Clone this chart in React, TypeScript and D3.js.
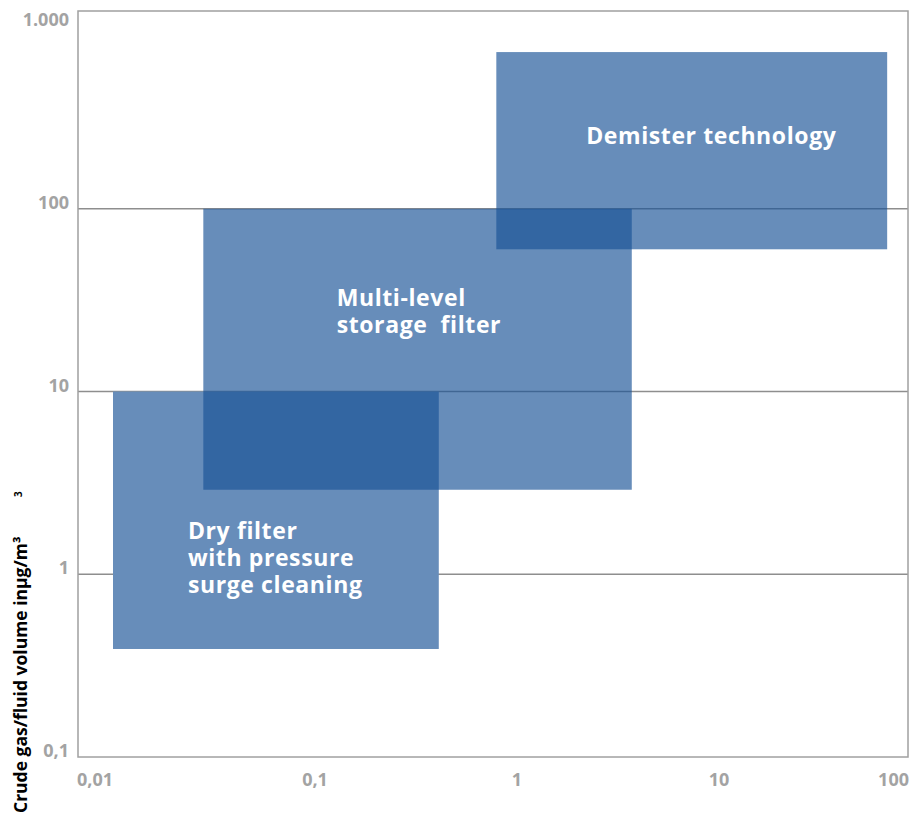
import React from "react";
import * as d3 from "d3";

const xTicks = [0.01, 0.1, 1, 10, 100];
const xTickLabels = ["0,01", "0,1", "1", "10", "100"];
const yTicks = [0.1, 1, 10, 100, 1000];
const yTickLabels = ["0,1", "1", "10", "100", "1.000"];
const gridValues = [1, 10, 100];

const regionNames = ["Dry filter", "Multi-level", "Demister"];
const regionX0 = [0.01, 0.028, 0.79];
const regionX1 = [0.41, 3.7, 68];
const regionY0 = [0.39, 2.9, 60];
const regionY1 = [10, 100, 720];
const regionLines = [
  ["Dry filter", "with pressure", "surge cleaning"],
  ["Multi-level", "storage  filter"],
  ["Demister technology"],
];
const labelX = [0.0235, 0.128, 2.2];
const labelY = [1.56, 29.4, 226];

const W = 924;
const H = 817;
const frame = { left: 78, right: 908, top: 11, bottom: 757 };

export default function App() {
  const x = d3.scaleLog().domain([0.01, 100]).range([113, 921]);
  const y = d3.scaleLog().domain([0.1, 1000]).range([757, 26]);
  const fillColor = "rgb(24,82,150)";
  const alpha = 0.66;
  const solid = d3.interpolateRgb("#ffffff", fillColor)(alpha);
  const tickFont = { fontFamily: "'Open Sans', sans-serif", fontWeight: 700, fontSize: 18, fill: "#a3a3a3" };

  return (
    <svg width={W} height={H} style={{ position: "absolute", left: 0, top: 0 }}>
      <rect x={0} y={0} width={W} height={H} fill="#fff" />
      {gridValues.map((v) => (
        <line key={v} x1={frame.left} x2={frame.right} y1={y(v)} y2={y(v)} stroke="#8e8e8e" strokeWidth={1.6} />
      ))}
      {regionNames.map((n, i) => (
        <rect
          key={n}
          x={x(regionX0[i])}
          y={y(regionY1[i])}
          width={x(regionX1[i]) - x(regionX0[i])}
          height={y(regionY0[i]) - y(regionY1[i])}
          fill={i === 0 ? solid : fillColor}
          fillOpacity={i === 0 ? 1 : alpha}
        />
      ))}
      <rect
        x={frame.left}
        y={frame.top}
        width={frame.right - frame.left}
        height={frame.bottom - frame.top}
        fill="none"
        stroke="#a0a0a0"
        strokeWidth={1.5}
      />
      {regionNames.map((n, i) => (
        <text
          key={n}
          x={x(labelX[i])}
          y={y(labelY[i])}
          fill="#fff"
          style={{ fontFamily: "'Open Sans', sans-serif", fontWeight: 700, fontSize: 23, letterSpacing: 0.6 }}
        >
          {regionLines[i].map((l, j) => (
            <tspan key={j} x={x(labelX[i])} dy={j === 0 ? 0 : 27} style={{ whiteSpace: "pre" }}>
              {l}
            </tspan>
          ))}
        </text>
      ))}
      {yTicks.map((v, i) => (
        <text key={v} x={69} y={y(v)} textAnchor="end" style={tickFont}>
          {yTickLabels[i]}
        </text>
      ))}
      {xTicks.map((v, i) => {
        const first = i === 0;
        const last = i === xTicks.length - 1;
        const px = first ? frame.left - 1 : last ? frame.right + 1 : x(v);
        return (
          <text key={v} x={px} y={786} textAnchor={first ? "start" : last ? "end" : "middle"} style={tickFont}>
            {xTickLabels[i]}
          </text>
        );
      })}
      <text
        transform="translate(27,813) rotate(-90)"
        style={{ fontFamily: "'Open Sans', sans-serif", fontWeight: 700, fontSize: 17.5, fill: "#000" }}
      >
        Crude gas/fluid volume inμg/m³
      </text>
      <text
        transform="translate(22,497) rotate(-90)"
        style={{ fontFamily: "'Open Sans', sans-serif", fontWeight: 700, fontSize: 10, fill: "#000" }}
      >
        3
      </text>
    </svg>
  );
}
